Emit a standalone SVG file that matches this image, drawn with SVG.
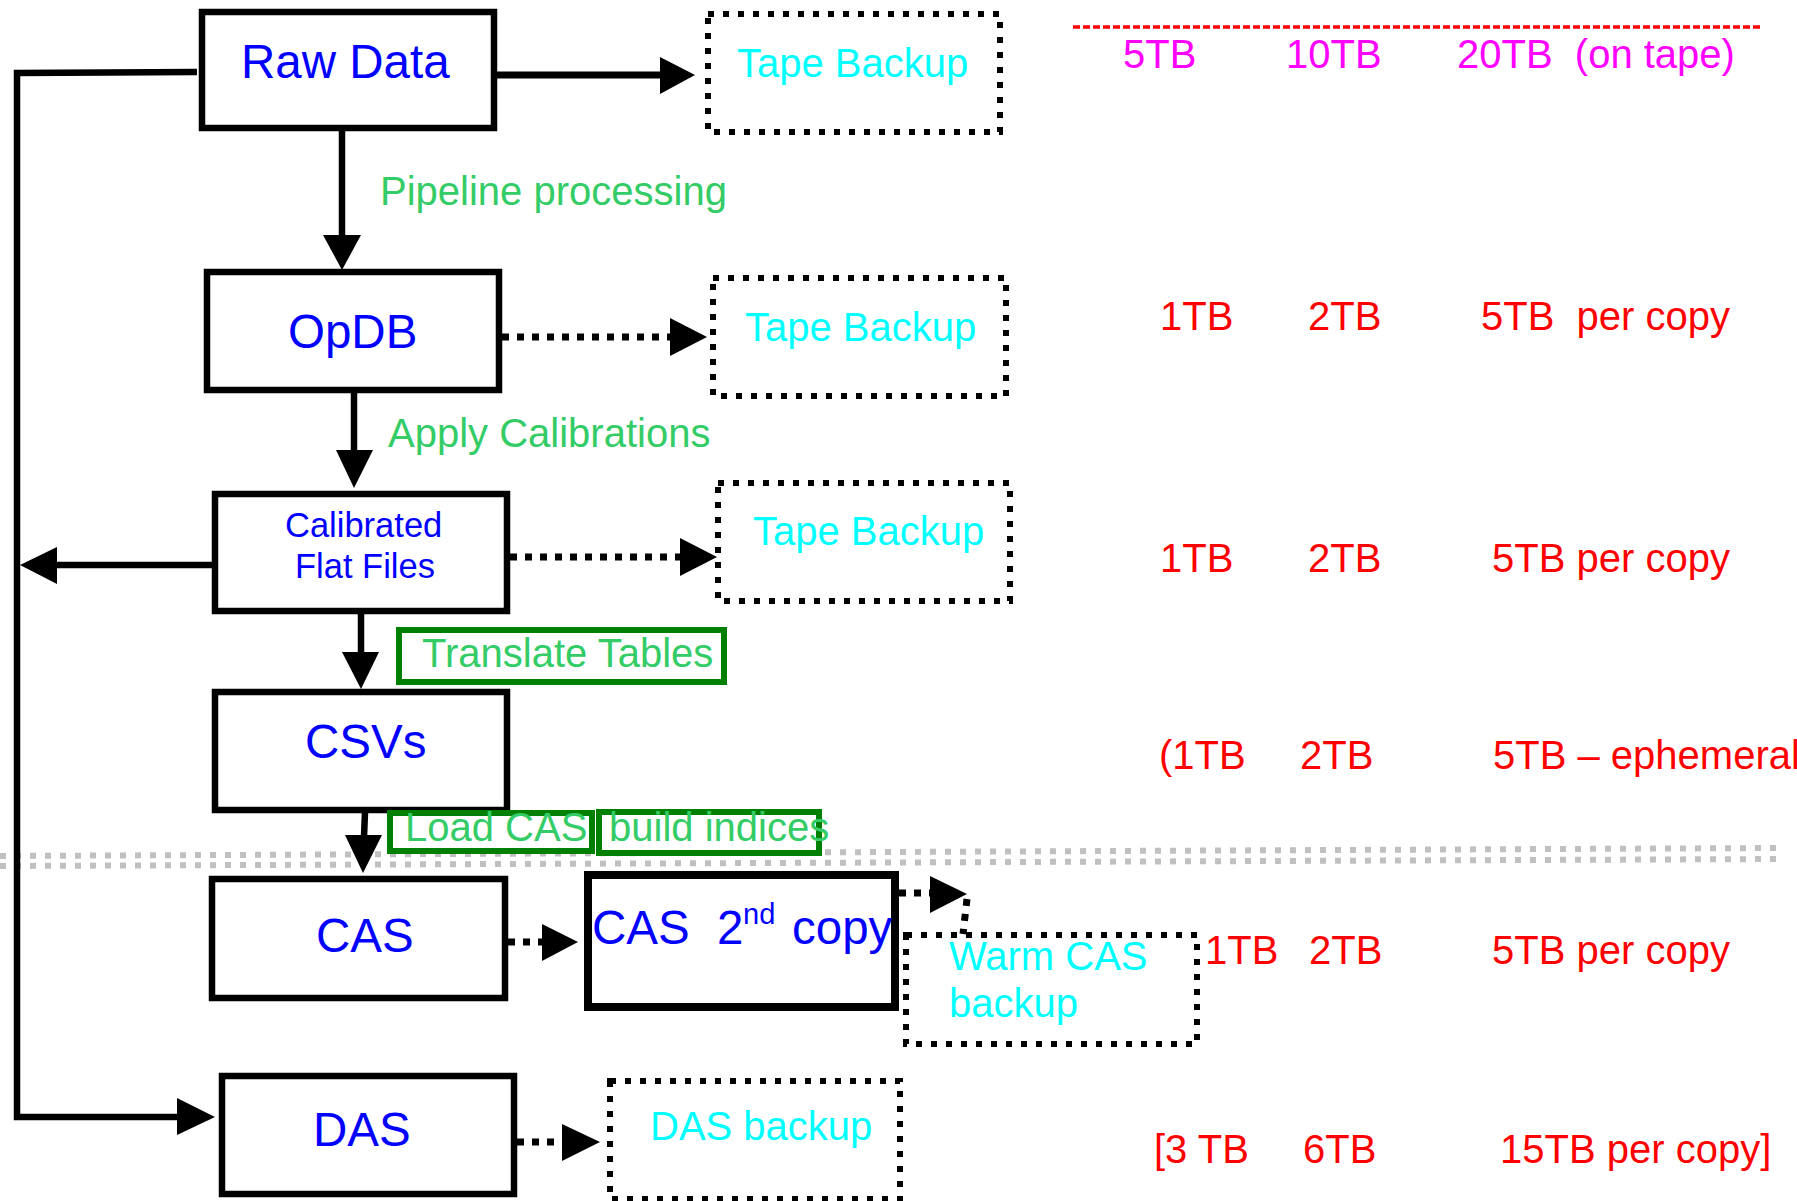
<svg xmlns="http://www.w3.org/2000/svg" width="1797" height="1201" viewBox="0 0 1797 1201">
<style>
text{font-family:"Liberation Sans",Arial,sans-serif;}
.box{fill:#fff;stroke:#000;stroke-width:6.5;}
.dbox{fill:none;stroke:#000;stroke-width:6;stroke-dasharray:6 9;}
.gbox{fill:#fff;stroke:#008000;stroke-width:6;}
.ln{fill:none;stroke:#000;stroke-width:6.5;}
.dl{fill:none;stroke:#000;stroke-width:7;stroke-dasharray:7 8;}
.head{fill:#000;}
.blue{fill:#0000ff;font-size:47.5px;}
.cyan{fill:#00ffff;font-size:40px;}
.green{fill:#33cc66;font-size:40px;}
.red{fill:#ff0000;font-size:40px;}
.mag{fill:#ff00ff;font-size:40px;}
</style>
<rect width="1797" height="1201" fill="#fff"/>
<g id="separator">
<line x1="0" y1="856" x2="1779" y2="848" stroke="#c0c0c0" stroke-width="6" stroke-dasharray="6 9"/>
<line x1="0" y1="866" x2="1779" y2="859" stroke="#c0c0c0" stroke-width="6" stroke-dasharray="6 9"/>
<line x1="1073" y1="27" x2="1763" y2="27" stroke="#ff0000" stroke-width="3.5" stroke-dasharray="7 3"/>
</g>
<g id="connectors">
<polyline class="ln" points="197,72 17,73 17,1117 177,1117"/>
<polygon class="head" points="177,1098 215,1117 177,1135"/>
<line class="ln" x1="212" y1="565" x2="57" y2="565"/>
<polygon class="head" points="57,547 20,565 57,584"/>
<line class="ln" x1="496" y1="75" x2="662" y2="75" style="stroke-width:7"/>
<polygon class="head" points="660,57 695,75 660,94"/>
<line class="ln" x1="342" y1="131" x2="342" y2="237"/>
<polygon class="head" points="323,235 342,270 361,235"/>
<line class="dl" x1="502" y1="337" x2="672" y2="337"/>
<polygon class="head" points="670,318 707,337 670,356"/>
<line class="ln" x1="354" y1="393" x2="354" y2="452"/>
<polygon class="head" points="336,450 354,488 373,450"/>
<line class="dl" x1="510" y1="557" x2="682" y2="557"/>
<polygon class="head" points="680,538 717,557 680,576"/>
<line class="ln" x1="361" y1="614" x2="361" y2="654"/>
<polygon class="head" points="342,652 361,689 379,652"/>
<line class="ln" x1="365" y1="812" x2="364" y2="837"/>
<polygon class="head" points="345,835 363,873 382,835"/>
<line class="dl" x1="508" y1="942" x2="544" y2="942"/>
<polygon class="head" points="542,924 578,942 542,961"/>
<line class="dl" x1="899" y1="893" x2="932" y2="893"/>
<polygon class="head" points="930,876 967,894 930,913"/>
<line class="dl" x1="967" y1="899" x2="963" y2="934"/>
<line class="dl" x1="517" y1="1142" x2="564" y2="1142"/>
<polygon class="head" points="562,1124 600,1142 562,1161"/>
</g>
<g id="raw-data"><rect class="box" x="202" y="12" width="292" height="116"/><text class="blue" x="241" y="78">Raw Data</text></g>
<g id="tape-backup-1"><rect class="dbox" x="708" y="14" width="292" height="118"/><text class="cyan" x="737" y="77">Tape Backup</text></g>
<g id="label-pipeline"><text class="green" x="380" y="205">Pipeline processing</text></g>
<g id="opdb"><rect class="box" x="207" y="272" width="292" height="118"/><text class="blue" x="288" y="348">OpDB</text></g>
<g id="tape-backup-2"><rect class="dbox" x="713" y="278" width="293" height="118"/><text class="cyan" x="745" y="341">Tape Backup</text></g>
<g id="label-apply"><text class="green" x="388" y="447">Apply Calibrations</text></g>
<g id="calibrated-flat-files"><rect class="box" x="215" y="494" width="292" height="117"/><text class="blue" x="285" y="537" style="font-size:34.5px">Calibrated</text><text class="blue" x="295" y="578" style="font-size:34.5px">Flat Files</text></g>
<g id="tape-backup-3"><rect class="dbox" x="718" y="483" width="292" height="118"/><text class="cyan" x="753" y="545">Tape Backup</text></g>
<g id="translate-tables"><rect class="gbox" x="399" y="630" width="325" height="52"/><text class="green" x="422" y="667">Translate Tables</text></g>
<g id="csvs"><rect class="box" x="215" y="692" width="292" height="118"/><text class="blue" x="305" y="758">CSVs</text></g>
<g id="load-cas"><rect class="gbox" x="390" y="813" width="202" height="38"/><text class="green" x="405" y="841">Load CAS</text></g>
<g id="build-indices"><rect class="gbox" x="599" y="812" width="220" height="41"/><text class="green" x="609" y="841">build indices</text></g>
<g id="cas"><rect class="box" x="212" y="879" width="293" height="119"/><text class="blue" x="316" y="952">CAS</text></g>
<g id="cas-2nd-copy"><rect class="box" x="588" y="875" width="307" height="132" style="stroke-width:8"/><text class="blue" x="592" y="944" xml:space="preserve">CAS  <tspan x="717">2</tspan><tspan x="743" y="924" style="font-size:29px">nd</tspan><tspan x="792" y="944">copy</tspan></text></g>
<g id="warm-cas-backup"><rect class="dbox" x="906" y="935" width="291" height="109"/><text class="cyan" x="949" y="970">Warm CAS</text><text class="cyan" x="949" y="1017">backup</text></g>
<g id="das"><rect class="box" x="222" y="1076" width="292" height="118"/><text class="blue" x="313" y="1146">DAS</text></g>
<g id="das-backup"><rect class="dbox" x="610" y="1081" width="290" height="118"/><text class="cyan" x="650" y="1140">DAS backup</text></g>
<g id="sizes">
<text class="mag" x="1123" y="68">5TB</text><text class="mag" x="1286" y="68">10TB</text><text class="mag" x="1457" y="68" xml:space="preserve">20TB  (on tape)</text>
<text class="red" x="1160" y="330">1TB</text><text class="red" x="1308" y="330">2TB</text><text class="red" x="1481" y="330" xml:space="preserve">5TB  per copy</text>
<text class="red" x="1160" y="572">1TB</text><text class="red" x="1308" y="572">2TB</text><text class="red" x="1492" y="572">5TB per copy</text>
<text class="red" x="1159" y="769">(1TB</text><text class="red" x="1300" y="769">2TB</text><text class="red" x="1493" y="769">5TB – ephemeral</text>
<text class="red" x="1205" y="964">1TB</text><text class="red" x="1309" y="964">2TB</text><text class="red" x="1492" y="964">5TB per copy</text>
<text class="red" x="1154" y="1163">[3 TB</text><text class="red" x="1303" y="1163">6TB</text><text class="red" x="1500" y="1163">15TB per copy]</text>
</g>
</svg>
